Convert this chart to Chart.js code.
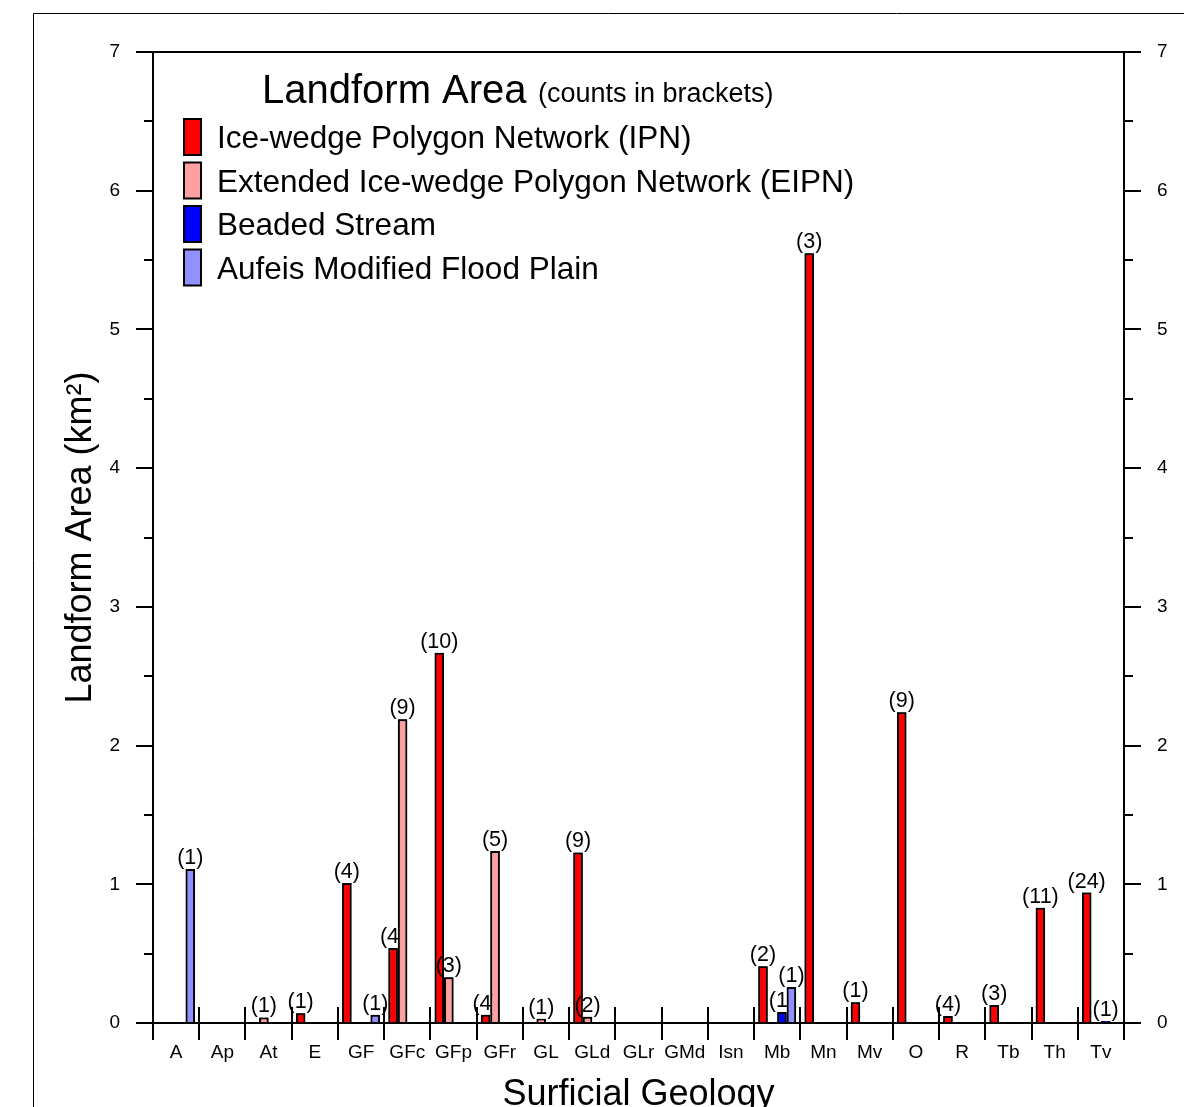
<!DOCTYPE html>
<html>
<head>
<meta charset="utf-8">
<script src="https://cdn.jsdelivr.net/npm/chart.js@4.4.1/dist/chart.umd.min.js"></script>
<style>
    body { margin: 0; background: #fff; }
    #wrap { width: 1184px; height: 1107px; }
</style>
</head>
<body>
<div id="wrap"><canvas id="landform-graph"></canvas></div>
<script>
const categories = ["A", "Ap", "At", "E", "GF", "GFc", "GFp", "GFr", "GL", "GLd", "GLr", "GMd", "Isn", "Mb", "Mn", "Mv", "O", "R", "Tb", "Th", "Tv"];

// landform areas (km2) per surficial geology unit
const ipnArea = [null, null, null, 0.07, 1.01, 0.54, 2.67, 0.06, null, 1.23, null, null, null, 0.41, 5.55, 0.15, 2.24, 0.05, 0.13, 0.83, 0.94];
const eipnArea = [null, null, 0.04, null, null, 2.19, 0.33, 1.24, 0.03, 0.045, null, null, null, null, null, null, null, null, null, null, null];
const beadedArea = [null, null, null, null, null, null, null, null, null, null, null, null, null, 0.08, null, null, null, null, null, null, 0.015];
const aufeisArea = [1.11, null, null, null, 0.06, null, null, null, null, null, null, null, null, 0.26, null, null, null, null, null, null, null];

// counts shown in brackets
const ipnCount = [null, null, null, 1, 4, 4, 10, 4, null, 9, null, null, null, 2, 3, 1, 9, 4, 3, 11, 24];
const eipnCount = [null, null, 1, null, null, 9, 3, 5, 1, 2, null, null, null, null, null, null, null, null, null, null, null];
const beadedCount = [null, null, null, null, null, null, null, null, null, null, null, null, null, 1, null, null, null, null, null, null, 1];
const aufeisCount = [1, null, null, null, 1, null, null, null, null, null, null, null, null, 1, null, null, null, null, null, null, null];

const yTicks = [0, 1, 2, 3, 4, 5, 6, 7];

const FONT = "'Liberation Sans', Arial, sans-serif";
const counts = [ipnCount, eipnCount, beadedCount, aufeisCount];

const extras = {
    id: "extras",
    beforeDraw(chart) {
        const ctx = chart.ctx;
        ctx.save();
        ctx.strokeStyle = "#000";
        ctx.lineWidth = 1;
        ctx.beginPath();
        ctx.moveTo(33.5, chart.height);
        ctx.lineTo(33.5, 13.5);
        ctx.lineTo(chart.width, 13.5);
        ctx.stroke();
        ctx.restore();
    },
    afterDatasetsDraw(chart) {
        const ctx = chart.ctx;
        // redraw each dataset in turn so later bars sit over earlier labels
        chart.data.datasets.forEach((ds, i) => {
            const meta = chart.getDatasetMeta(i);
            meta.controller.draw();
            ctx.save();
            ctx.fillStyle = "#000";
            ctx.font = "21.5px " + FONT;
            ctx.textAlign = "center";
            ctx.textBaseline = "alphabetic";
            meta.data.forEach((bar, j) => {
                if (ds.data[j] === null || counts[i][j] === null) return;
                ctx.fillText("(" + counts[i][j] + ")", bar.x, bar.y - 5);
            });
            ctx.restore();
        });
    },
    afterDraw(chart) {
        const ctx = chart.ctx;
        const area = chart.chartArea;
        const xs = chart.scales.x;
        const ys = chart.scales.y;
        ctx.save();
        ctx.strokeStyle = "#000";
        ctx.lineWidth = 2;
        ctx.beginPath();
        // top border
        ctx.moveTo(area.left, area.top);
        ctx.lineTo(area.right, area.top);
        // minor ticks
        for (let v = 0.5; v < 7; v += 1) {
            const y = Math.round(ys.getPixelForValue(v));
            ctx.moveTo(area.left - 9, y);
            ctx.lineTo(area.left, y);
            ctx.moveTo(area.right, y);
            ctx.lineTo(area.right + 9, y);
        }
        // category separators above the axis
        for (let i = 1; i < categories.length; i++) {
            const x = Math.round((xs.getPixelForValue(i - 1) + xs.getPixelForValue(i)) / 2);
            ctx.moveTo(x, area.bottom - 16);
            ctx.lineTo(x, area.bottom);
        }
        ctx.stroke();

        // legend
        ctx.fillStyle = "#000";
        ctx.textBaseline = "alphabetic";
        ctx.textAlign = "left";
        ctx.font = "40px " + FONT;
        ctx.fillText("Landform Area", 262, 103);
        ctx.font = "27px " + FONT;
        ctx.fillText("(counts in brackets)", 538, 102);
        chart.data.datasets.forEach((ds, i) => {
            const top = 119 + i * 43.5;
            ctx.fillStyle = ds.backgroundColor;
            ctx.fillRect(184, top, 17, 36);
            ctx.lineWidth = 2;
            ctx.strokeRect(184, top, 17, 36);
            ctx.fillStyle = "#000";
            ctx.font = "31.5px " + FONT;
            ctx.fillText(ds.label, 217, top + 29);
        });
        ctx.restore();
    },
};

const yAxis = (pos, width) => ({
    type: "linear",
    position: pos,
    min: 0,
    max: 7,
    afterFit: (scale) => { scale.width = width; },
    afterBuildTicks: (scale) => { scale.ticks = yTicks.map((v) => ({ value: v })); },
    border: { color: "#000", width: 2 },
    grid: { drawOnChartArea: false, tickLength: 17, color: "#000", lineWidth: 2 },
    ticks: { color: "#000", padding: 16, font: { family: FONT, size: 19 } },
});

const yLeft = yAxis("left", 153);
yLeft.title = {
    display: true,
    text: "Landform Area (km²)",
    color: "#000",
    font: { family: FONT, size: 36 },
    padding: { top: 59, bottom: 0 },
};

new Chart(document.getElementById("landform-graph"), {
    type: "bar",
    data: {
        labels: categories,
        datasets: [
            { label: "Ice-wedge Polygon Network (IPN)", data: ipnArea, backgroundColor: "#ff0000" },
            { label: "Extended Ice-wedge Polygon Network (EIPN)", data: eipnArea, backgroundColor: "#ffa0a0" },
            { label: "Beaded Stream", data: beadedArea, backgroundColor: "#0000ff" },
            { label: "Aufeis Modified Flood Plain", data: aufeisArea, backgroundColor: "#9090ff" },
        ],
    },
    options: {
        responsive: true,
        maintainAspectRatio: false,
        animation: false,
        layout: { padding: { top: 52, left: 0, right: 0, bottom: 0 } },
        datasets: {
            bar: {
                borderColor: "#000",
                borderWidth: 2,
                categoryPercentage: 0.82,
                barPercentage: 1.0,
            },
        },
        plugins: {
            legend: { display: false },
            tooltip: { enabled: false },
        },
        scales: {
            x: {
                afterFit: (scale) => { scale.height = 84; },
                border: { color: "#000", width: 2 },
                grid: { offset: true, drawOnChartArea: false, tickLength: 17, color: "#000", lineWidth: 2 },
                ticks: { color: "#000", padding: 1, maxRotation: 0, autoSkip: false, font: { family: FONT, size: 19 } },
                title: {
                    display: true,
                    text: "Surficial Geology",
                    color: "#000",
                    font: { family: FONT, size: 36 },
                    padding: { top: 0, bottom: -10 },
                },
            },
            y: yLeft,
            y2: yAxis("right", 60),
        },
    },
    plugins: [extras],
});
</script>
</body>
</html>
